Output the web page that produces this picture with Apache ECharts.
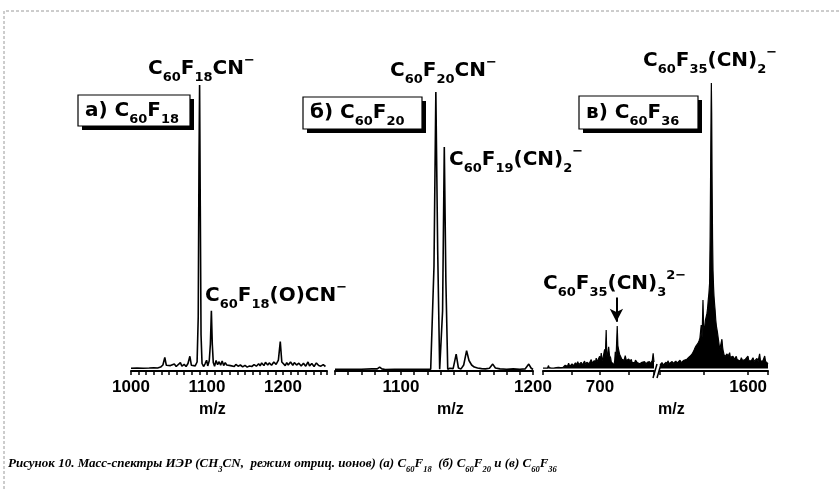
<!DOCTYPE html>
<html>
<head>
<meta charset="utf-8">
<script src="https://cdn.jsdelivr.net/npm/echarts@6/dist/echarts.min.js"></script>
<style>
html, body { margin: 0; padding: 0; background: #fff; }
#chart { width: 839px; height: 489px; }
</style>
</head>
<body>
<div id="chart"></div>
<script>
// ESI mass spectra, negative-ion mode; each point is [m/z, relative intensity]

// (а) C60F18
const specA = [
  [1000,0.9],[1008,1.0],[1016,0.9],[1024,1.0],[1030,1.1],[1035,1.0],[1039,1.3],[1042,2.0],[1044.5,4.5],[1046.5,1.9],
  [1049,1.4],[1052,1.8],[1054,1.2],[1057,2.3],[1059.5,1.5],[1062,1.9],[1065,2.8],[1067,1.6],[1070,2.2],[1072.5,1.5],
  [1075,2.5],[1077.5,4.9],[1079.5,1.9],[1082,2.5],[1084.5,1.7],[1087,3.0],[1088.5,18],[1089.5,70],[1090.3,95.3],[1091.2,55],
  [1092.2,12],[1093.5,2.5],[1095.5,1.5],[1097.5,2.4],[1099.5,3.6],[1101,1.7],[1103,3.4],[1104.5,9],[1105.8,20.1],[1107,9],
  [1108.3,2.8],[1110,1.6],[1112,3.5],[1114,2.1],[1116,3.1],[1118,1.9],[1120,3.3],[1122,1.8],[1124,2.8],[1126,2.0],
  [1128,2.6],[1131,1.8],[1133,2.4],[1136,1.5],[1138,2.2],[1141,1.6],[1144,2.0],[1147,1.4],[1150,1.9],[1153,1.3],
  [1156,1.7],[1159,1.5],[1162,2.1],[1165,1.6],[1168,2.4],[1170,1.7],[1172,2.7],[1175,1.8],[1177,2.9],[1180,2.0],
  [1182,2.7],[1185,1.9],[1188,3.0],[1191,2.2],[1194,3.6],[1196.5,9.8],[1198.5,3.0],[1201,2.4],[1203,1.8],[1205,2.8],
  [1207,2.0],[1210,3.0],[1213,1.9],[1215,2.8],[1218,2.0],[1221,2.6],[1224,1.7],[1227,2.6],[1230,1.6],[1233,3.0],
  [1235,1.7],[1238,2.5],[1241,1.5],[1244,2.7],[1247,1.8],[1250,1.6],[1253,2.1],[1256,1.5]
];

// (б) C60F20
const specB = [
  [1050,0.6],[1060,0.6],[1070,0.6],[1078,0.7],[1082,0.7],[1083.8,1.3],[1085.5,0.7],[1088,0.5],[1095,0.6],[1105,0.6],
  [1115,0.6],[1122.5,0.6],[1123.8,0.8],[1125,35],[1126.4,93],[1127.8,40],[1129.3,0.6],[1130.5,0.5],[1131.5,20],[1132.8,74.7],
  [1134,30],[1135.4,0.6],[1137,0.9],[1139.5,0.8],[1141.8,5.6],[1143.5,1.0],[1145.5,0.7],[1147.5,2.0],[1149.7,6.8],[1151.5,3.5],
  [1153.5,2.0],[1155.5,1.3],[1158,1.0],[1161,0.8],[1164,0.7],[1167,0.9],[1169.5,2.3],[1171.5,1.0],[1175,0.7],[1180,0.6],
  [1185,0.7],[1190,0.6],[1194,0.7],[1196.8,2.3],[1198.5,1.0],[1200,0.5]
];

// (в) C60F36, low-mass part of the broken axis
const specCLow = [
  [600,1.0],[602,1.3],[604,1.0],[606,1.2],[608,1.0],[609.5,1.8],[611,1.1],[613,1.3],[615,1.0],[617,1.5],
  [619,1.0],[621,1.4],[623,1.1],[625,1.6],[627,1.2],[629,1.5],[631,1.1],[633,1.7],[635,1.2],[637,1.4],
  [639,1.9],[641,1.3],[643,1.6],[645,2.6],[647,1.5],[649,2.0],[651,2.4],[653,1.7],[655,2.2],[657,2.7],
  [659,2.0],[661,3.1],[663,2.1],[665,2.5],[667,2.9],[669,2.0],[671,2.6],[673,3.3],[675,2.2],[677,2.9],
  [679,3.1],[681,2.4],[683,2.9],[684.7,3.8],[686.5,2.6],[688.5,3.2],[690,3.5],[692,2.8],[693.5,4.3],[695,3.0],
  [696.5,3.5],[698,3.1],[699.5,4.9],[701,3.6],[702.3,6.0],[703.8,3.5],[705.3,4.2],[706.8,3.6],[708.3,7.2],[709.5,5.0],
  [711,13.7],[712,5.5],[712.8,4.8],[714,6.0],[715.3,8.1],[716.8,5.2],[718.8,4.4],[720,3.0],[721,3.4],[722.5,2.4],
  [724.6,2.0],[726,3.5],[727,6.4],[728.5,5.0],[730.4,15.0],[731.5,8.5],[733,7.0],[734.5,5.6],[736.4,5.3],[738.5,3.9],
  [740.4,4.2],[742.5,3.6],[744.5,5.1],[746.5,3.4],[749.2,3.1],[750.5,4.0],[752,4.3],[753.5,3.2],[755,3.9],[756.5,2.9],
  [758,2.6],[759.5,3.3],[761,2.8],[762.5,3.6],[764,3.6],[765.5,2.8],[766.8,3.4],[768.5,2.6],[770,2.4],[771.3,3.0],
  [772.6,2.6],[774,2.9],[775.5,3.4],[777,2.5],[778.6,3.1],[780,2.6],[781.5,2.2],[783,2.9],[784.4,2.3],[785.5,2.7],
  [787,3.1],[788.5,2.4],[790,2.9],[791,2.5],[792,3.5],[793.5,5.9],[795,3.0]
];

// (в) C60F36, high-mass part of the broken axis
const specCHigh = [
  [1200,2.0],[1204,2.6],[1209,2.8],[1214,2.0],[1218,2.5],[1223,2.3],[1228,2.9],[1232,2.2],[1236,3.4],[1241,2.4],
  [1245,2.8],[1250,2.3],[1255,3.2],[1259,2.5],[1264,3.0],[1268,2.4],[1272,3.3],[1277,2.6],[1282,3.1],[1286,2.7],
  [1291,3.6],[1295,2.8],[1300,3.3],[1304,2.8],[1309,3.6],[1313,4.2],[1318,3.4],[1322,3.9],[1327,3.6],[1331,4.4],
  [1336,4.9],[1341,5.2],[1345,5.6],[1350,5.9],[1354,6.8],[1358,7.6],[1363,8.3],[1368,8.7],[1372,9.2],[1377,10.0],
  [1381,10.9],[1384,11.5],[1387,15.3],[1391,11.2],[1395,23.7],[1398,14.5],[1402,13.7],[1406,16.9],[1410,17.5],[1413,19.2],
  [1416,21],[1419,23.7],[1422,26],[1425,29.2],[1427.5,45],[1430,70],[1431.8,88],[1433,96],[1434.5,86],[1436.5,62],
  [1438.5,44],[1440.5,33.7],[1443,28],[1445,25],[1448,22],[1450,20.3],[1453,17],[1456,14.9],[1460,13.2],[1463,12.6],
  [1467,9.5],[1471,7.0],[1474,8.2],[1477,9.2],[1481,10.6],[1484,8.0],[1486,7.0],[1490,5.6],[1495,4.8],[1500,5.3],
  [1504,5.7],[1509,4.9],[1513,5.5],[1516,6.1],[1519,4.6],[1522,4.2],[1527,4.6],[1531,4.9],[1536,3.9],[1541,4.5],
  [1546,4.9],[1550,3.8],[1554,3.6],[1559,4.1],[1564,3.3],[1569,4.4],[1574,3.5],[1578,3.9],[1581,3.4],[1586,3.8],
  [1590,3.2],[1595,3.6],[1599,5.0],[1603,3.5],[1608,3.6],[1611,3.0],[1614,3.4],[1618,3.0],[1622,4.4],[1627,3.2],
  [1631,3.1],[1636,3.6],[1640,4.2],[1645,3.2],[1649,3.8],[1652,5.7],[1656,3.3],[1660,3.6],[1663,3.1],[1667,3.4],
  [1671,3.9],[1675,5.0],[1679,3.2],[1683,3.0],[1687,2.6],[1690,2.4]
];

// tick labels shown on each x axis
const labelsA = [1000, 1100, 1200];
const labelsB = [1100, 1200];
const labelsCLow = [700];
const labelsCHigh = [1600];

// arrow marking the doubly charged ion, [m/z, intensity] start and end
const arrowFrom = [729, 24.5];
const arrowTo = [729, 16.4];

// chemical formula markup: X_{sub} and X^{sup} -> ECharts rich text
function chem(s, p) {
  p = p || '';
  let out = '';
  const re = /([_^])\{([^}]*)\}|([^_^]+)/g;
  let m;
  while ((m = re.exec(s))) {
    if (m[3]) out += '{' + p + 'm|' + m[3] + '}';
    else out += '{' + p + (m[1] === '_' ? 's' : 'p') + '|' + m[2] + '}';
  }
  return out;
}

const FONT = 'DejaVu Sans';
const labelRich = {
  m: { fontFamily: FONT, fontWeight: 'bold', fontSize: 20, color: '#000', lineHeight: 30, verticalAlign: 'middle' },
  s: { fontFamily: FONT, fontWeight: 'bold', fontSize: 13, color: '#000', lineHeight: 12, verticalAlign: 'bottom' },
  p: { fontFamily: FONT, fontWeight: 'bold', fontSize: 13, color: '#000', lineHeight: 14, verticalAlign: 'top' }
};
const capRich = {
  cm: { fontFamily: 'Liberation Serif', fontStyle: 'italic', fontSize: 13, color: '#000', lineHeight: 20, verticalAlign: 'middle' },
  cs: { fontFamily: 'Liberation Serif', fontStyle: 'italic', fontSize: 8.5, color: '#000', lineHeight: 8, verticalAlign: 'bottom' },
  cp: { fontFamily: 'Liberation Serif', fontStyle: 'italic', fontSize: 8.5, color: '#000', lineHeight: 8, verticalAlign: 'top' }
};

function label(text, left, top) {
  return { text: chem(text), left: left, top: top, padding: 0, z: 8, textStyle: { rich: labelRich } };
}
function plain(text, left, top) {
  return { text: text, left: left, top: top, padding: 0,
    textStyle: { fontFamily: 'Liberation Sans', fontWeight: 'bold', fontSize: 16, color: '#000' } };
}
// framed panel caption: black offset shadow, white framed box, text on top
const panelBoxes = [
  { text: 'а) C_{60}F_{18}', x: 78, y: 95, w: 112, h: 31 },
  { text: 'б) C_{60}F_{20}', x: 303, y: 97, w: 119, h: 32 },
  { text: 'в) C_{60}F_{36}', x: 579, y: 96, w: 119, h: 33 }
];
function boxShapes(b) {
  return [
    { type: 'rect', silent: true, z: 1, shape: { x: b.x + 4, y: b.y + 4, width: b.w, height: b.h }, style: { fill: '#000' } },
    { type: 'rect', silent: true, z: 2, shape: { x: b.x, y: b.y, width: b.w, height: b.h }, style: { fill: '#fff', stroke: '#000', lineWidth: 1.2 } }
  ];
}
function boxTitle(b) {
  return label(b.text, b.x + 7, b.y + Math.round((b.h - 30) / 2));
}

function xAxis(gi, min, max, interval, shown) {
  return {
    type: 'value', gridIndex: gi, min: min, max: max, interval: interval,
    axisLine: { show: true, onZero: false, lineStyle: { color: '#000', width: 2 } },
    axisTick: { show: true, inside: false, length: 4, lineStyle: { color: '#000', width: 1.5 } },
    splitLine: { show: false },
    axisLabel: {
      margin: 8, color: '#000', fontFamily: 'Liberation Sans', fontWeight: 'bold', fontSize: 17,
      showMinLabel: true, showMaxLabel: true,
      formatter: v => (shown.indexOf(v) >= 0 ? String(v) : '')
    }
  };
}
function yAxis(gi) {
  return { type: 'value', gridIndex: gi, min: 0, max: 100, show: false };
}
function spectrum(i, data, filled) {
  const s = {
    type: 'line', xAxisIndex: i, yAxisIndex: i, data: data,
    showSymbol: false, symbol: 'none', silent: true,
    lineStyle: { color: '#000', width: filled ? 1.2 : 1.6 }
  };
  if (filled) s.areaStyle = { color: '#000', opacity: 1, origin: 0.8 };
  return s;
}

const GT = 71, GH = 300;
const option = {
  animation: false,
  backgroundColor: '#fff',
  grid: [
    { left: 131, width: 196, top: GT, height: GH },
    { left: 335, width: 198, top: GT, height: GH },
    { left: 543, width: 111, top: GT, height: GH },
    { left: 660, width: 108, top: GT, height: GH }
  ],
  xAxis: [
    xAxis(0, 1000, 1258, 10, labelsA),
    xAxis(1, 1050, 1200, 10, labelsB),
    xAxis(2, 600, 795, 50, labelsCLow),
    xAxis(3, 1200, 1690, 200, labelsCHigh)
  ],
  yAxis: [yAxis(0), yAxis(1), yAxis(2), yAxis(3)],
  series: [
    spectrum(0, specA, false),
    spectrum(1, specB, false),
    Object.assign(spectrum(2, specCLow, true), {
      markLine: {
        silent: true, symbol: ['none', 'arrow'], symbolSize: [10, 13],
        lineStyle: { color: '#000', width: 2, type: 'solid' },
        label: { show: false },
        data: [[{ coord: arrowFrom }, { coord: arrowTo }]]
      }
    }),
    spectrum(3, specCHigh, true)
  ],
  title: panelBoxes.map(boxTitle).concat([
    label('C_{60}F_{18}CN^{−}', 148, 54),
    label('C_{60}F_{18}(O)CN^{−}', 205, 281),
    label('C_{60}F_{20}CN^{−}', 390, 56),
    label('C_{60}F_{19}(CN)_{2}^{−}', 449, 145),
    label('C_{60}F_{35}(CN)_{2}^{−}', 643, 46),
    label('C_{60}F_{35}(CN)_{3}^{2−}', 543, 269),
    plain('m/z', 199, 402),
    plain('m/z', 437, 402),
    plain('m/z', 658, 402),
    {
      text: chem('Рисунок 10. Масс-спектры ИЭР (CH_{3}CN,  режим отриц. ионов) (а) C_{60}F_{18}  (б) C_{60}F_{20} и (в) C_{60}F_{36}', 'c'),
      left: 8, top: 454, padding: 0, textStyle: { rich: capRich }
    }
  ]),
  graphic: [
    // dotted page frame
    { type: 'polyline', silent: true, shape: { points: [[4, 489], [4, 11], [839, 11]] },
      style: { stroke: '#9a9a9a', lineWidth: 1, lineDash: [3, 2], fill: null } },
    // axis break marks
    { type: 'line', silent: true, shape: { x1: 653, y1: 378, x2: 657, y2: 364 }, style: { stroke: '#000', lineWidth: 1.5 } },
    { type: 'line', silent: true, shape: { x1: 657, y1: 378, x2: 661, y2: 364 }, style: { stroke: '#000', lineWidth: 1.5 } }
  ].concat(...panelBoxes.map(boxShapes))
};

const chart = echarts.init(document.getElementById('chart'), null, { renderer: 'canvas' });
chart.setOption(option);
</script>
</body>
</html>
